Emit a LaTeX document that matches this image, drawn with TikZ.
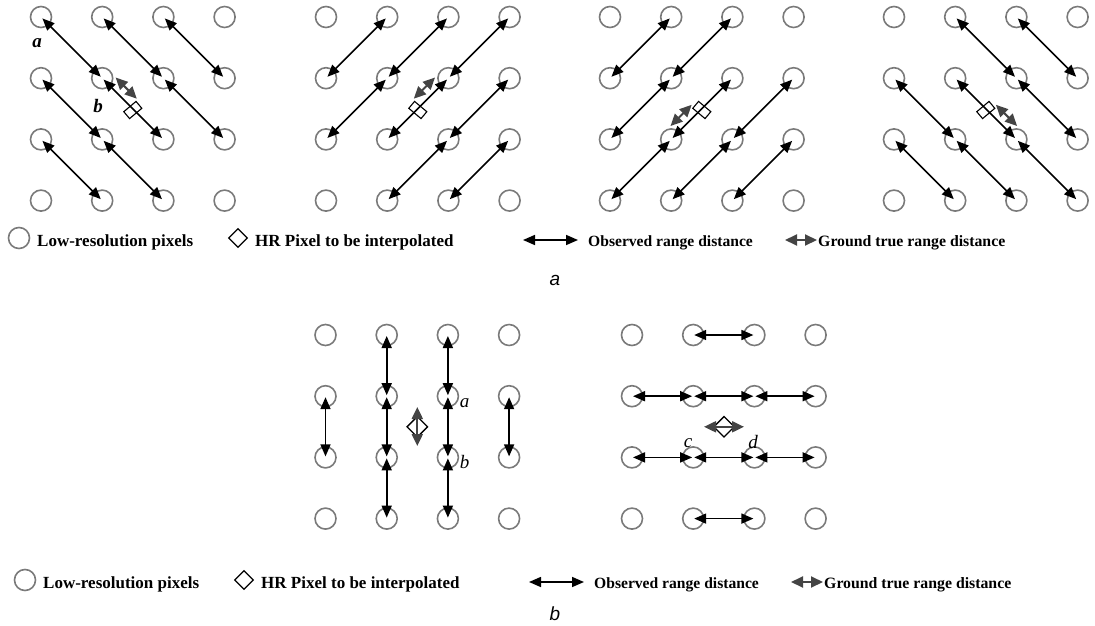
\documentclass[tikz,border=0pt]{standalone}
\usepackage{fontspec}
\setmainfont{Liberation Serif}
\setsansfont{Liberation Sans}
\usetikzlibrary{arrows.meta,shapes.geometric}
\definecolor{pixgray}{HTML}{7A7A7A}
\definecolor{truegray}{HTML}{444444}
\tikzset{
	lrpix/.style={circle, draw=pixgray, line width=1.6pt, minimum size=21pt, inner sep=0pt},
	hrbox/.style={rectangle, draw=black, line width=1.1pt, minimum width=16pt, minimum height=9pt, inner sep=0pt},
	hrdia/.style={diamond, draw=black, line width=1.3pt, minimum size=21pt, inner sep=0pt},
	obs/.style={{Triangle[length=12pt,width=10pt]}-{Triangle[length=12pt,width=10pt]}, line width=1.6pt, shorten <=2pt, shorten >=2pt},
	truth/.style={{Triangle[length=12pt,width=11pt]}-{Triangle[length=12pt,width=11pt]}, draw=truegray, line width=2pt},
	legtext/.style={anchor=base west, inner sep=0pt, font=\fontsize{#1}{#1}\selectfont\bfseries},
	lbl/.style={anchor=base, inner sep=0pt, font=\fontsize{19}{19}\selectfont\itshape},
	sublbl/.style={anchor=base, inner sep=0pt, font=\sffamily\itshape\fontsize{19}{19}\selectfont}
}
\begin{document}
\begin{tikzpicture}[x=1pt, y=-1pt]
	\useasboundingbox (0,0) rectangle (1095,626);
	\def\gap{61.2};
	\def\gapb{61.2};
	\def\hrx{91.8};
	\def\hry{93};
	
	%panel a, grid 1
	\begin{scope}[shift={(41,17)}]
	\foreach \c in {0,...,3} \foreach \r in {0,...,3}
		\node[lrpix] (a1-\c-\r) at (\c*\gap, \r*\gap) {};
	\foreach \s/\e in {0-0/1-1, 1-0/2-1, 2-0/3-1, 0-1/1-2, 1-1/2-2, 2-1/3-2, 0-2/1-3, 1-2/2-3}
		\draw[obs] (a1-\s.center) -- (a1-\e.center);
	\node[hrbox, rotate=40] (hr1) at (\hrx, \hry) {};
	\coordinate (t1s) at (74.6, 60.5);
	\coordinate (t1e) at (95.8, 81.7);
	\draw[truth] (t1s) -- (t1e);
	\node[lbl, font=\fontsize{19}{19}\selectfont\bfseries\itshape] (lbla1) at (-4, 31) {a};
	\node[lbl, font=\fontsize{19}{19}\selectfont\bfseries\itshape] (lblb1) at (57, 95) {b};
	\end{scope}
	
	%panel a, grid 2
	\begin{scope}[shift={(326,17)}]
	\foreach \c in {0,...,3} \foreach \r in {0,...,3}
		\node[lrpix] (a2-\c-\r) at (\c*\gap, \r*\gap) {};
	\foreach \s/\e in {0-1/1-0, 1-1/2-0, 2-1/3-0, 0-2/1-1, 1-2/2-1, 2-2/3-1, 1-3/2-2, 2-3/3-2}
		\draw[obs] (a2-\s.center) -- (a2-\e.center);
	\node[hrbox, rotate=-40] (hr2) at (\hrx, \hry) {};
	\coordinate (t2s) at (109.0, 60.5);
	\coordinate (t2e) at (87.8, 81.7);
	\draw[truth] (t2s) -- (t2e);
	\end{scope}
	
	%panel a, grid 3
	\begin{scope}[shift={(610,17)}]
	\foreach \c in {0,...,3} \foreach \r in {0,...,3}
		\node[lrpix] (a3-\c-\r) at (\c*\gap, \r*\gap) {};
	\foreach \s/\e in {0-1/1-0, 1-1/2-0, 0-2/1-1, 1-2/2-1, 0-3/1-2, 1-3/2-2, 2-2/3-1, 2-3/3-2}
		\draw[obs] (a3-\s.center) -- (a3-\e.center);
	\node[hrbox, rotate=-40] (hr3) at (\hrx, \hry) {};
	\coordinate (t3s) at (60.5, 109.0);
	\coordinate (t3e) at (81.7, 87.8);
	\draw[truth] (t3s) -- (t3e);
	\end{scope}
	
	%panel a, grid 4
	\begin{scope}[shift={(894,17)}]
	\foreach \c in {0,...,3} \foreach \r in {0,...,3}
		\node[lrpix] (a4-\c-\r) at (\c*\gap, \r*\gap) {};
	\foreach \s/\e in {1-0/2-1, 2-0/3-1, 0-1/1-2, 1-1/2-2, 2-1/3-2, 0-2/1-3, 1-2/2-3, 2-2/3-3}
		\draw[obs] (a4-\s.center) -- (a4-\e.center);
	\node[hrbox, rotate=40] (hr4) at (\hrx, \hry) {};
	\coordinate (t4s) at (123.1, 109.0);
	\coordinate (t4e) at (101.9, 87.8);
	\draw[truth] (t4s) -- (t4e);
	\end{scope}
	
	%panel b, vertical grid
	\begin{scope}[shift={(325.5,335)}]
	\foreach \c in {0,...,3} \foreach \r in {0,...,3}
		\node[lrpix] (b1-\c-\r) at (\c*\gapb, \r*\gapb) {};
	\foreach \s/\e in {0-1/0-2, 1-0/1-1, 1-1/1-2, 1-2/1-3, 2-0/2-1, 2-1/2-2, 2-2/2-3, 3-1/3-2}
		\draw[obs, shorten <=1pt, shorten >=1pt] (b1-\s.center) -- (b1-\e.center);
	\node[hrdia] (hr5) at (91.8, 91.8) {};
	\coordinate (t5s) at (91.8, 72);
	\coordinate (t5e) at (91.8, 111);
	\draw[truth] (t5s) -- (t5e);
	\node[lbl] (lbla2) at (139, 72) {a};
	\node[lbl] (lblb2) at (139, 133) {b};
	\end{scope}
	
	%panel b, horizontal grid
	\begin{scope}[shift={(632,335)}]
	\foreach \c in {0,...,3} \foreach \r in {0,...,3}
		\node[lrpix] (b2-\c-\r) at (\c*\gapb, \r*\gapb) {};
	\foreach \s/\e in {1-0/2-0, 0-1/1-1, 1-1/2-1, 2-1/3-1, 0-2/1-2, 1-2/2-2, 2-2/3-2, 1-3/2-3}
		\draw[obs, shorten <=1pt, shorten >=1pt] (b2-\s.center) -- (b2-\e.center);
	\node[hrdia] (hr6) at (92, 91.8) {};
	\coordinate (t6s) at (72, 91.8);
	\coordinate (t6e) at (112, 91.8);
	\draw[truth] (t6s) -- (t6e);
	\node[lbl] (lblc2) at (56, 112) {c};
	\node[lbl] (lbld2) at (121, 113) {d};
	\end{scope}
	
	%legends
	\foreach \lg/\lx/\ly in {la/0/238, lb/6/580} {
	\begin{scope}[shift={(\lx,\ly)}]
	\node[lrpix] (\lg-pix) at (19,0) {};
	\node[legtext=17] (\lg-pixtxt) at (37,8) {Low-resolution pixels};
	\node[hrdia, minimum size=19pt] (\lg-hr) at (238,0) {};
	\node[legtext=17] (\lg-hrtxt) at (255,8) {HR Pixel to be interpolated};
	\coordinate (\lg-oa) at (523,2);
	\coordinate (\lg-ob) at (578,2);
	\draw[obs, shorten <=0pt, shorten >=0pt] (\lg-oa) -- (\lg-ob);
	\node[legtext=15.6] (\lg-obstxt) at (588,8) {Observed range distance};
	\coordinate (\lg-ta) at (785,2);
	\coordinate (\lg-tb) at (817,2);
	\draw[truth] (\lg-ta) -- (\lg-tb);
	\node[legtext=15.8] (\lg-trutxt) at (818,8) {Ground true range distance};
	\end{scope}
	}
	
	%sub-figure labels
	\node[sublbl] (capa) at (555,285) {a};
	\node[sublbl] (capb) at (555,620) {b};
\end{tikzpicture}
\end{document}
